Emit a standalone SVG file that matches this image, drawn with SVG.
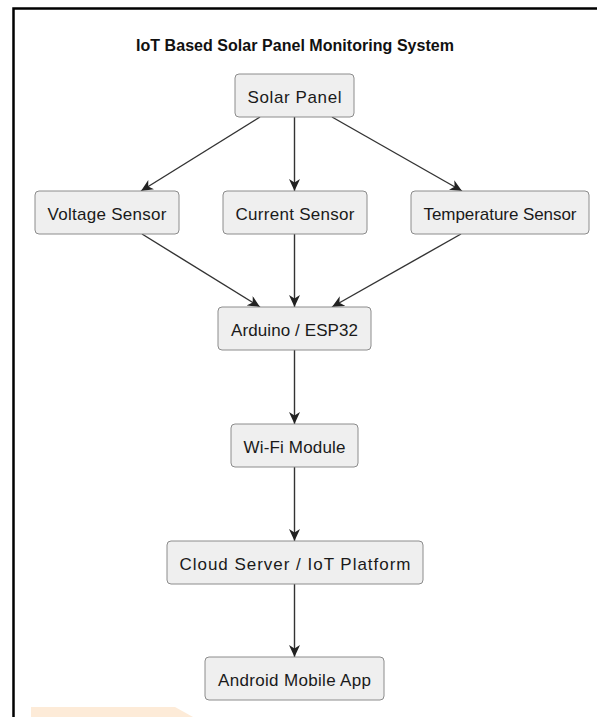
<svg xmlns="http://www.w3.org/2000/svg" width="597" height="717" viewBox="0 0 597 717">
<style>
.node rect{fill:#efefef;stroke:#8c8c8c;stroke-width:1}
.node text{font-family:"Liberation Sans",Arial,sans-serif;font-size:17px;fill:#1a1a1a;text-anchor:middle}
.title{font-family:"Liberation Sans",Arial,sans-serif;font-size:16px;font-weight:bold;fill:#111;text-anchor:middle}
.edges line{stroke:#333;stroke-width:1.4;fill:none}
</style>
<defs>
<marker id="arr" markerUnits="userSpaceOnUse" viewBox="0 0 12 11" markerWidth="12" markerHeight="11" refX="12" refY="5.5" orient="auto">
<path d="M0,0 L12,5.5 L0,11 L3.5,5.5 z" fill="#222"/>
</marker>
</defs>
<rect x="0" y="0" width="597" height="717" fill="#fff"/>
<rect x="13.5" y="8.5" width="700" height="800" fill="none" stroke="#000" stroke-width="2.5"/>
<polygon points="31,707 175,707 193,717 31,717" fill="#fdebd8"/>
<text class="title" x="295" y="51" textLength="318" lengthAdjust="spacing">IoT Based Solar Panel Monitoring System</text>
<g class="edges">
<line x1="260" y1="117" x2="141" y2="191" marker-end="url(#arr)"/>
<line x1="294.5" y1="117" x2="294.5" y2="191" marker-end="url(#arr)"/>
<line x1="332" y1="117" x2="462" y2="191" marker-end="url(#arr)"/>
<line x1="142" y1="234" x2="260" y2="307" marker-end="url(#arr)"/>
<line x1="294.5" y1="234" x2="294.5" y2="307" marker-end="url(#arr)"/>
<line x1="461" y1="234" x2="332" y2="307" marker-end="url(#arr)"/>
<line x1="294.5" y1="350" x2="294.5" y2="424" marker-end="url(#arr)"/>
<line x1="294.5" y1="467" x2="294.5" y2="541" marker-end="url(#arr)"/>
<line x1="294.5" y1="584" x2="294.5" y2="657" marker-end="url(#arr)"/>
</g>
<g id="solar" class="node"><rect x="235" y="74" width="119" height="43" rx="4"/><text x="294.5" y="102.5" textLength="94" lengthAdjust="spacing">Solar Panel</text></g>
<g id="voltage" class="node"><rect x="35" y="191" width="144" height="43" rx="4"/><text x="107" y="219.5" textLength="119" lengthAdjust="spacing">Voltage Sensor</text></g>
<g id="current" class="node"><rect x="223" y="191" width="144" height="43" rx="4"/><text x="295" y="219.5" textLength="119" lengthAdjust="spacing">Current Sensor</text></g>
<g id="temperature" class="node"><rect x="411" y="191" width="178" height="43" rx="4"/><text x="500" y="219.5" textLength="153" lengthAdjust="spacing">Temperature Sensor</text></g>
<g id="arduino" class="node"><rect x="218" y="307" width="153" height="43" rx="4"/><text x="294.5" y="335.5" textLength="127" lengthAdjust="spacing">Arduino / ESP32</text></g>
<g id="wifi" class="node"><rect x="231" y="424" width="127" height="43" rx="4"/><text x="294.5" y="452.5" textLength="102" lengthAdjust="spacing">Wi-Fi Module</text></g>
<g id="cloud" class="node"><rect x="167" y="541" width="256" height="43" rx="4"/><text x="295" y="569.5" textLength="231" lengthAdjust="spacing">Cloud Server / IoT Platform</text></g>
<g id="android" class="node"><rect x="205" y="657" width="179" height="43" rx="4"/><text x="294.5" y="685.5" textLength="153" lengthAdjust="spacing">Android Mobile App</text></g>
</svg>
